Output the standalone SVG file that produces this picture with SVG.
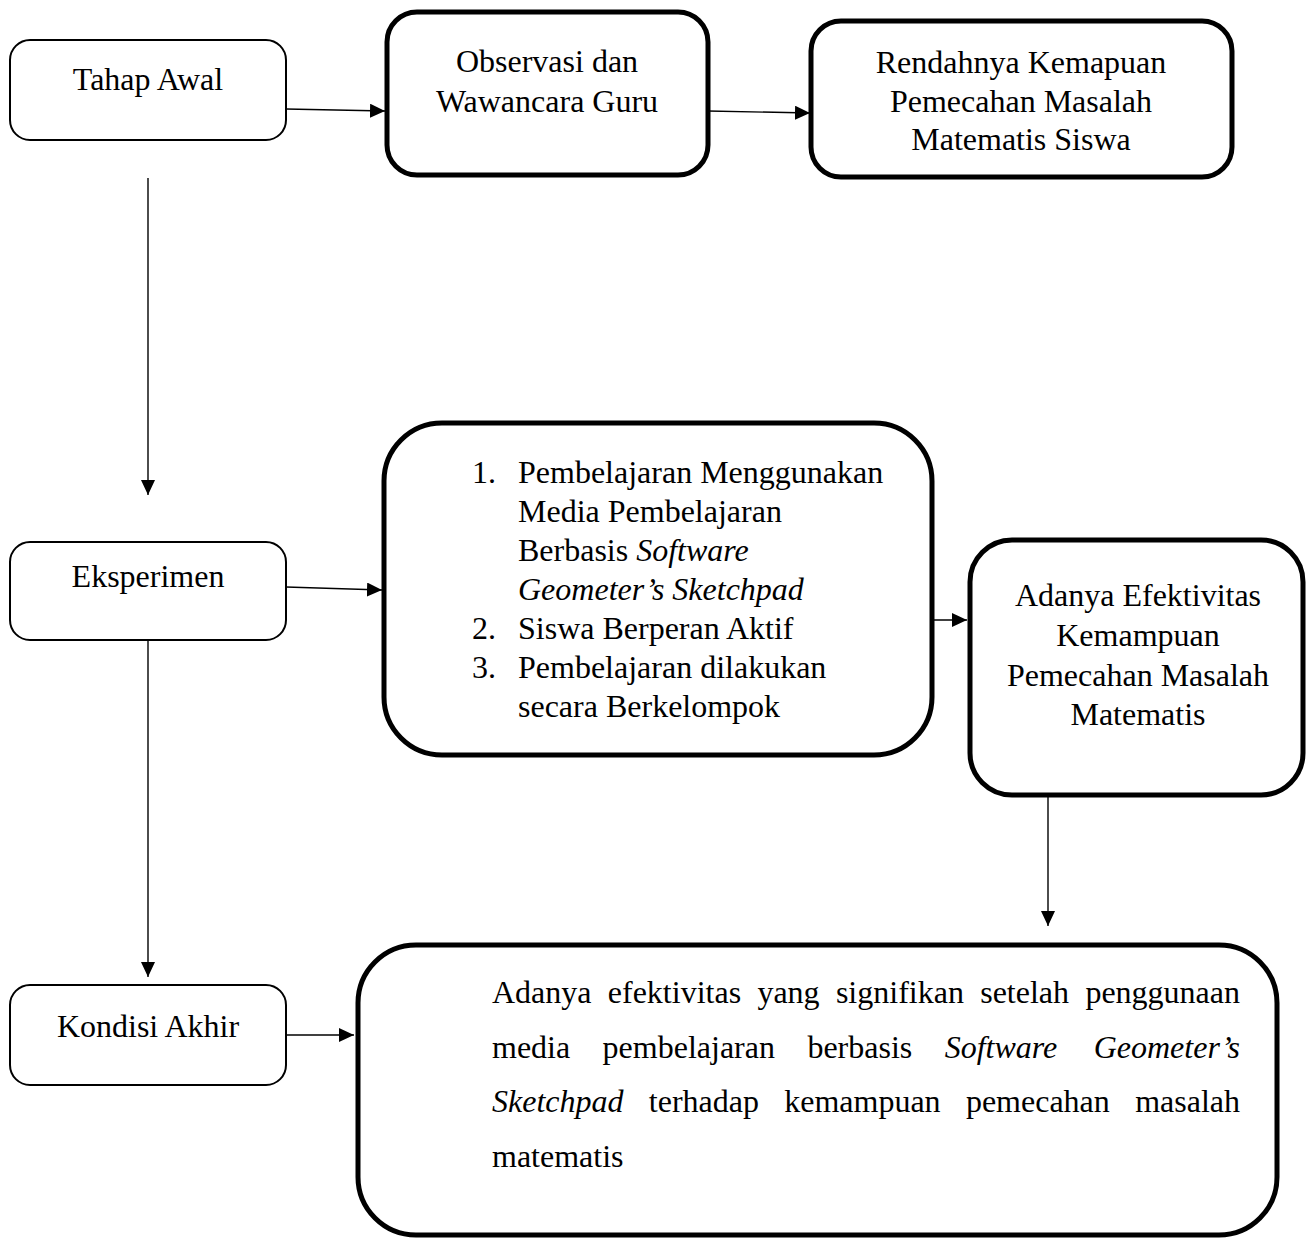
<svg xmlns="http://www.w3.org/2000/svg" width="1307" height="1239" viewBox="0 0 1307 1239">
<style>
text{font-family:"Liberation Serif","Times New Roman",serif;font-size:32px;fill:#000}
.c{text-anchor:middle}
.e{text-anchor:end}
.i{font-style:italic}
.thin{fill:#fff;stroke:#000;stroke-width:2}
.thick{fill:#fff;stroke:#000;stroke-width:5}
.ln{stroke:#000;stroke-width:1.4;fill:none}
</style>
<defs>
<marker id="ah" markerUnits="userSpaceOnUse" markerWidth="16" markerHeight="14" refX="15" refY="7" orient="auto">
<path d="M0,0 L15,7 L0,14 z" fill="#000"/>
</marker>
</defs>
<rect width="1307" height="1239" fill="#fff"/>
<g id="connectors">
<line class="ln" x1="286" y1="109" x2="385" y2="111" marker-end="url(#ah)"/>
<line class="ln" x1="708" y1="111" x2="810" y2="113" marker-end="url(#ah)"/>
<line class="ln" x1="148" y1="178" x2="148" y2="495" marker-end="url(#ah)"/>
<line class="ln" x1="286" y1="587" x2="382" y2="590" marker-end="url(#ah)"/>
<line class="ln" x1="148" y1="640" x2="148" y2="977" marker-end="url(#ah)"/>
<line class="ln" x1="932" y1="620" x2="967" y2="620" marker-end="url(#ah)"/>
<line class="ln" x1="1048" y1="797" x2="1048" y2="926" marker-end="url(#ah)"/>
<line class="ln" x1="286" y1="1035" x2="354" y2="1035" marker-end="url(#ah)"/>
</g>
<g id="tahap-awal">
<rect class="thin" x="10" y="40" width="276" height="100" rx="20"/>
<text class="c" x="148" y="90">Tahap Awal</text>
</g>
<g id="observasi">
<rect class="thick" x="387" y="12" width="321" height="163" rx="30"/>
<text class="c" x="547" y="72">Observasi dan</text>
<text class="c" x="547" y="112">Wawancara Guru</text>
</g>
<g id="rendahnya">
<rect class="thick" x="811" y="21" width="421" height="156" rx="30"/>
<text class="c" x="1021" y="73">Rendahnya Kemapuan</text>
<text class="c" x="1021" y="112">Pemecahan Masalah</text>
<text class="c" x="1021" y="150">Matematis Siswa</text>
</g>
<g id="eksperimen">
<rect class="thin" x="10" y="542" width="276" height="98" rx="20"/>
<text class="c" x="148" y="587">Eksperimen</text>
</g>
<g id="perlakuan">
<rect class="thick" x="384" y="423" width="548" height="332" rx="58"/>
<text x="472" y="483">1.</text><text x="518" y="483">Pembelajaran Menggunakan</text>
<text x="518" y="522">Media Pembelajaran</text>
<text x="518" y="561">Berbasis <tspan class="i">Software</tspan></text>
<text x="518" y="600" class="i">Geometer’s Sketchpad</text>
<text x="472" y="639">2.</text><text x="518" y="639">Siswa Berperan Aktif</text>
<text x="472" y="678">3.</text><text x="518" y="678">Pembelajaran dilakukan</text>
<text x="518" y="717">secara Berkelompok</text>
</g>
<g id="efektivitas">
<rect class="thick" x="970" y="540" width="333" height="255" rx="42"/>
<text class="c" x="1138" y="606">Adanya Efektivitas</text>
<text class="c" x="1138" y="646">Kemampuan</text>
<text class="c" x="1138" y="686">Pemecahan Masalah</text>
<text class="c" x="1138" y="725">Matematis</text>
</g>
<g id="kondisi-akhir">
<rect class="thin" x="10" y="985" width="276" height="100" rx="20"/>
<text class="c" x="148" y="1037">Kondisi Akhir</text>
</g>
<g id="kesimpulan">
<rect class="thick" x="358" y="945" width="919" height="290" rx="58"/>
<text x="492" y="1003">Adanya</text>
<text x="607.8" y="1003">efektivitas</text>
<text x="757.4" y="1003">yang</text>
<text x="835.9" y="1003">signifikan</text>
<text x="980.2" y="1003">setelah</text>
<text class="e" x="1240" y="1003">penggunaan</text>
<text x="492" y="1058">media</text>
<text x="602.6" y="1058">pembelajaran</text>
<text x="807.4" y="1058">berbasis</text>
<text class="i" x="944.7" y="1058">Software</text>
<text class="i e" x="1240" y="1058">Geometer’s</text>
<text class="i" x="492" y="1112">Sketchpad</text>
<text x="648.8" y="1112">terhadap</text>
<text x="784.2" y="1112">kemampuan</text>
<text x="965.9" y="1112">pemecahan</text>
<text class="e" x="1240" y="1112">masalah</text>
<text x="492" y="1167">matematis</text>
</g>
</svg>
